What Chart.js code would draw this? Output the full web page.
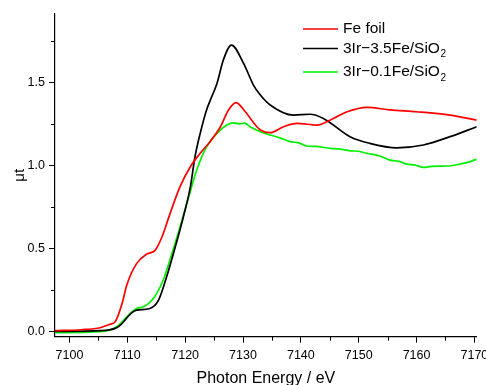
<!DOCTYPE html>
<html>
<head>
<meta charset="utf-8">
<script src="https://cdn.jsdelivr.net/npm/chart.js@4/dist/chart.umd.min.js"></script>
<style>
html,body{margin:0;padding:0;background:#fff;}
canvas{display:block;}
</style>
</head>
<body>
<canvas id="c" width="486" height="385"></canvas>
<script>
// ---- data ----
const seriesNames = ['Fe foil', '3Ir\u22123.5Fe/SiO_2', '3Ir\u22120.1Fe/SiO_2'];
const seriesColors = ['#ff0000', '#000000', '#00f000'];

const feFoilE  = [7097.5,7102.0,7105.3,7107.0,7107.9,7109.1,7109.9,7111.6,7113.4,7114.8,7116.0,7117.4,7119.1,7120.9,7122.6,7124.3,7126.1,7127.5,7128.8,7130.4,7132.4,7133.0,7134.7,7137.0,7139.3,7142.8,7145.1,7148.0,7151.4,7155.4,7160.0,7165.8,7170.4];
const feFoilMu = [0.006,0.012,0.024,0.045,0.06,0.17,0.28,0.41,0.468,0.49,0.572,0.713,0.873,0.994,1.075,1.145,1.235,1.336,1.38,1.325,1.235,1.215,1.199,1.235,1.255,1.245,1.275,1.325,1.352,1.336,1.325,1.305,1.275];

const fe35E  = [7097.5,7105.3,7107.9,7108.8,7110.8,7111.6,7113.9,7115.4,7116.8,7118.3,7119.7,7120.9,7121.7,7122.6,7123.7,7124.6,7125.5,7126.6,7128.0,7130.1,7131.8,7133.0,7134.7,7138.7,7141.6,7143.9,7148.5,7151.9,7156.6,7161.2,7165.8,7170.4];
const fe35Mu = [0.002,0.006,0.02,0.04,0.115,0.13,0.14,0.19,0.331,0.512,0.693,0.873,1.054,1.195,1.336,1.416,1.496,1.637,1.727,1.617,1.486,1.426,1.366,1.305,1.31,1.285,1.175,1.135,1.108,1.125,1.175,1.235];

const fe01E  = [7097.5,7105.3,7108.2,7109.9,7111.6,7112.8,7114.5,7116.2,7117.7,7119.1,7120.6,7122.0,7123.7,7125.5,7127.2,7128.4,7129.5,7130.3,7131.2,7133.0,7134.7,7136.4,7138.1,7139.6,7141.0,7142.5,7145.1,7146.8,7148.5,7150.0,7151.4,7153.5,7155.4,7157.0,7158.3,7159.8,7161.2,7162.6,7164.6,7166.0,7167.5,7169.0,7170.4];
const fe01Mu = [-0.006,0.0,0.03,0.09,0.14,0.15,0.20,0.31,0.47,0.63,0.81,0.974,1.114,1.195,1.245,1.258,1.252,1.257,1.235,1.205,1.185,1.168,1.145,1.138,1.119,1.116,1.105,1.1,1.09,1.087,1.075,1.06,1.034,1.026,1.01,1.004,0.99,0.996,0.998,1.0,1.01,1.022,1.04];

const xTickValues = [7100,7110,7120,7130,7140,7150,7160,7170];
const xMinorTicks = [7105,7115,7125,7135,7145,7155,7165];
const yTickValues = [0.0,0.5,1.0,1.5];
const yMinorTicks = [0.25,0.75,1.25,1.75];

const xTitle = 'Photon Energy / eV';
const yTitle = '\u03bct';

function pts(xs, ys){ return xs.map((x,i)=>({x:x, y:ys[i]})); }

const minorTicks = {
  id:'minorTicks',
  afterDraw(chart){
    const ctx = chart.ctx, xs = chart.scales.x, ys = chart.scales.y;
    ctx.save();
    ctx.strokeStyle = '#000'; ctx.lineWidth = 1;
    xMinorTicks.forEach(v=>{
      const px = Math.round(xs.getPixelForValue(v))+0.5;
      ctx.beginPath(); ctx.moveTo(px, xs.top); ctx.lineTo(px, xs.top+4); ctx.stroke();
    });
    yMinorTicks.forEach(v=>{
      const py = Math.round(ys.getPixelForValue(v))+0.5;
      ctx.beginPath(); ctx.moveTo(ys.right, py); ctx.lineTo(ys.right-4, py); ctx.stroke();
    });
    ctx.restore();
  }
};

const inLegend = {
  id:'inLegend',
  afterDraw(chart){
    const ctx = chart.ctx;
    const rows = [29, 48.5, 72];
    ctx.save();
    chart.data.datasets.forEach((ds,i)=>{
      const y = rows[i];
      ctx.strokeStyle = ds.borderColor; ctx.lineWidth = 1.6;
      ctx.beginPath(); ctx.moveTo(303, y); ctx.lineTo(338, y); ctx.stroke();
      const parts = ds.label.split('_');
      ctx.fillStyle = '#000';
      ctx.textBaseline = 'middle'; ctx.textAlign = 'left';
      ctx.font = '15.5px "Liberation Sans", Arial, sans-serif';
      ctx.fillText(parts[0], 343, y);
      if (parts[1]) {
        const w = ctx.measureText(parts[0]).width;
        ctx.font = '10px "Liberation Sans", Arial, sans-serif';
        ctx.fillText(parts[1], 343 + w + 0.5, y + 6);
      }
    });
    ctx.restore();
  }
};

new Chart(document.getElementById('c'), {
  type: 'line',
  data: {
    datasets: [
      {label: seriesNames[0], data: pts(feFoilE, feFoilMu), borderColor: seriesColors[0]},
      {label: seriesNames[1], data: pts(fe35E, fe35Mu), borderColor: seriesColors[1]},
      {label: seriesNames[2], data: pts(fe01E, fe01Mu), borderColor: seriesColors[2]}
    ].map(d=>Object.assign(d,{borderWidth:1.7, pointRadius:0, fill:false, cubicInterpolationMode:'monotone'}))
  },
  options: {
    responsive: false,
    animation: false,
    devicePixelRatio: 1,
    layout: {padding: {top: 14, right: 9.3, left: 0, bottom: 0}},
    plugins: {legend: {display: false}, tooltip: {enabled: false}},
    scales: {
      x: {
        type: 'linear', min: 7097.5, max: 7170.4,
        afterBuildTicks: s => { s.ticks = xTickValues.map(v=>({value:v})); },
        afterFit: s => { s.height = 48.3; s.paddingLeft = 0; s.paddingRight = 0; },
        ticks: {color:'#000', font:{size:12.5, family:'"Liberation Sans", Arial, sans-serif'}, padding: 5, maxRotation:0, autoSkip:false,
                callback: v => String(v)},
        grid: {drawOnChartArea:false, tickLength:6, color:'#000', tickColor:'#000'},
        border: {color:'#000', width:1.2},
        title: {display:true, text:xTitle, color:'#000', font:{size:16, family:'"Liberation Sans", Arial, sans-serif', lineHeight:1.2}, padding:{top:0,bottom:-3}}
      },
      y: {
        type: 'linear', min: -0.03, max: 1.914,
        afterBuildTicks: s => { s.ticks = yTickValues.map(v=>({value:v})); },
        afterFit: s => { s.width = 55; s.paddingTop = 0; s.paddingBottom = 0; },
        ticks: {color:'#000', font:{size:12.5, family:'"Liberation Sans", Arial, sans-serif'}, padding: 4,
                callback: v => Number(v).toFixed(1)},
        grid: {drawOnChartArea:false, tickLength:6, color:'#000', tickColor:'#000'},
        border: {color:'#000', width:1.2},
        title: {display:true, text:yTitle, color:'#000', font:{size:15, family:'"Liberation Sans", Arial, sans-serif', lineHeight:1.2}, padding:{top:11,bottom:0}}
      }
    }
  },
  plugins: [minorTicks, inLegend]
});
</script>
</body>
</html>
